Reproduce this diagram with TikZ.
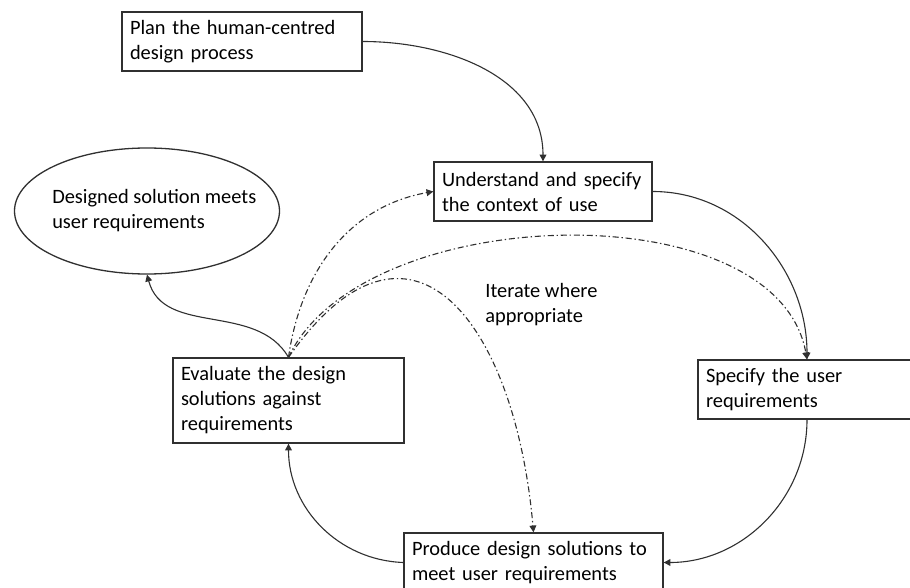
\documentclass[tikz,border=0pt]{standalone}
\usepackage{fontspec}
\setmainfont{Carlito}
\usepackage{xcolor}
\usetikzlibrary{positioning,arrows.meta,shapes.geometric}
\definecolor{ink}  {HTML}{000000}
\definecolor{ink70}{HTML}{303030}

\begin{document}
\begin{tikzpicture}[
  x=0.5pt, y=-0.5pt,
  font=\fontsize{10.2}{12.5}\selectfont,
  stage/.style={draw=ink70, line width=0.65pt, text=ink, align=left,
                inner xsep=4pt, inner ysep=0pt, minimum height=29.5pt},
  goal/.style={ellipse, draw=ink70, line width=0.65pt, inner sep=0pt,
               minimum width=132.5pt, minimum height=63pt},
  note/.style={text=ink, align=left, inner sep=0pt},
  flow/.style={draw=ink70, line width=0.55pt, -{Triangle[length=3.4pt, width=3.4pt]}},
  backflow/.style={flow, dash pattern=on 3pt off 1.4pt on 0.7pt off 1.4pt}
]
\useasboundingbox (0,0) rectangle (910,588);

% the cycle
\node[stage, text width=112pt] (plan) at (242,41.5) {Plan the human-centred\\design process};
\node[stage, text width=101pt] (context) at (543,191.5) {Understand and specify\\the context of use};
\node[stage, text width=101pt] (needs) at (807,389.5) {Specify the user\\requirements};
\node[stage, text width=121.5pt] (produce) at (533.5,562.5) {Produce design solutions to\\meet user requirements};
\node[stage, text width=107.5pt, minimum height=42.5pt] (evaluate) at (288.5,400.5) {Evaluate the design\\solutions against\\requirements};
\node[goal] (done) at (147,211) {};
\node[note, right=19pt of done.west] (donetext) {Designed solution meets\\user requirements};
\node[note, anchor=west] (iterate) at (485,305) {Iterate where\\appropriate};

\draw[flow] (plan.east) to[out=0, in=90] (context.north);
\draw[flow] (context.east) to[out=0, in=90] (needs.north);
\draw[flow] (needs.south) to[out=-90, in=0] (produce.east);
\draw[flow] (produce.west) to[out=178, in=-90] (evaluate.south);
\draw[flow] (evaluate.north) to[out=120, in=-75] (done.south);

% iterate back
\draw[backflow] (evaluate.north) to[out=82, in=190] (context.west);
\draw[backflow] (evaluate.north) to[out=65, in=100, looseness=0.85] (needs.north);
\draw[backflow] (evaluate.north) to[out=55, in=95, looseness=1.8] (produce.north);
\end{tikzpicture}
\end{document}
